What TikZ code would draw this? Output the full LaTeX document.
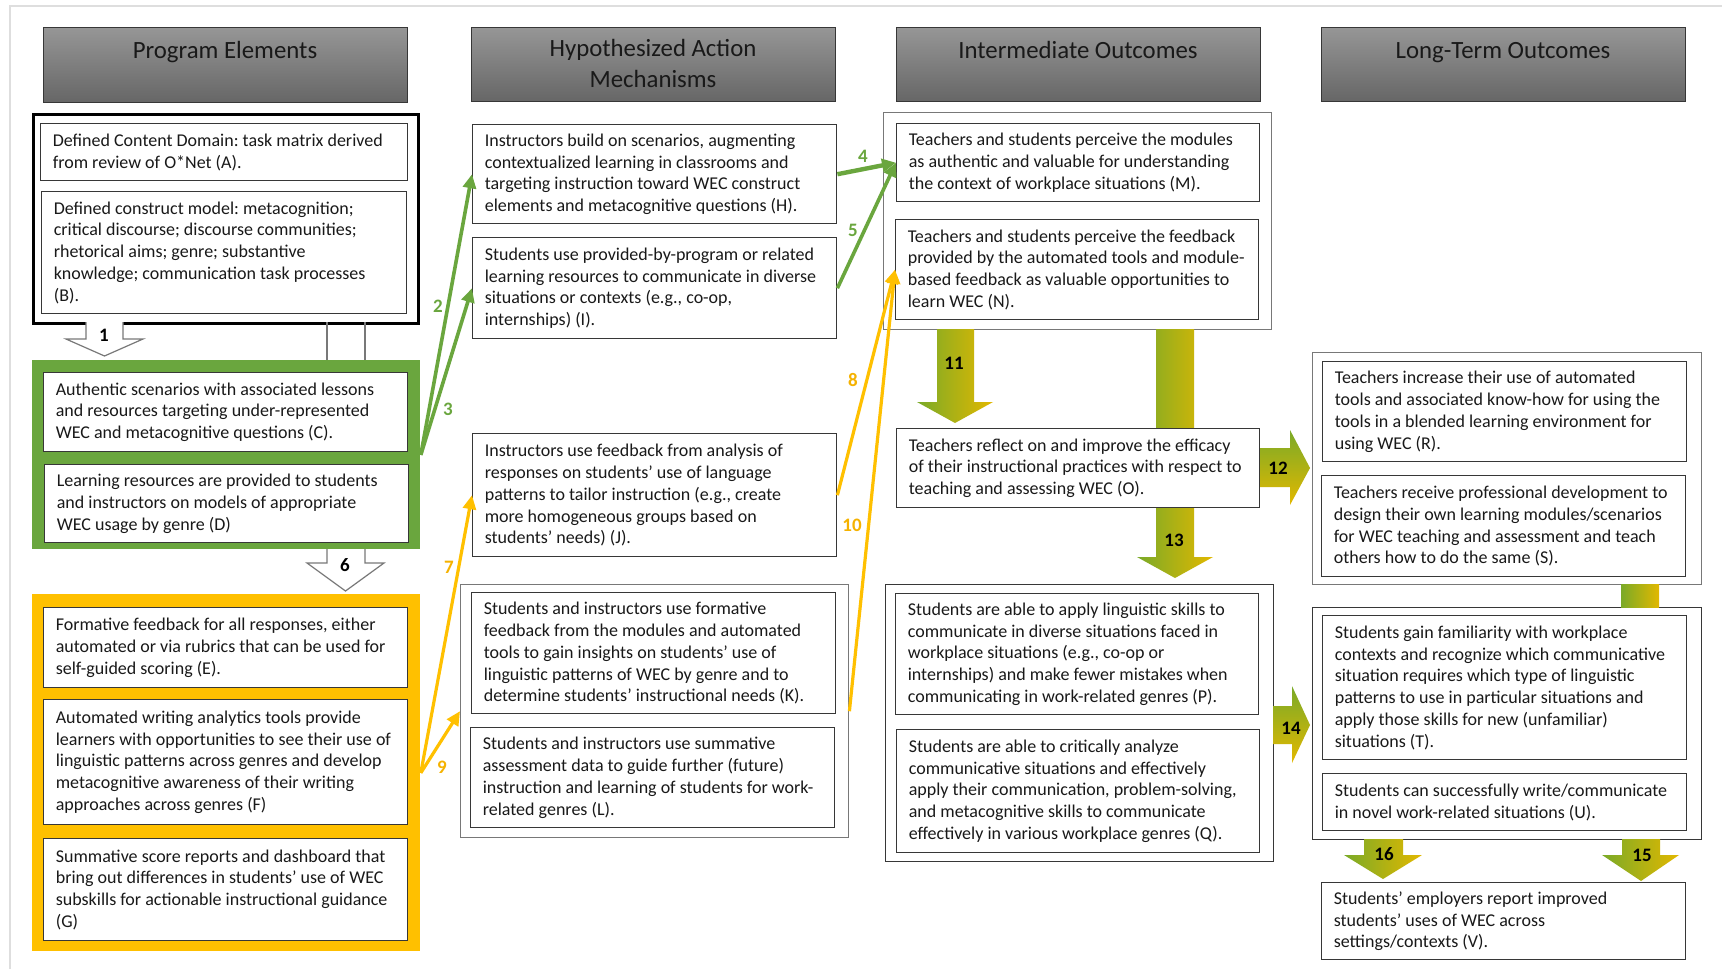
\documentclass[tikz,border=0pt]{standalone}
\usepackage{fontspec}
\setmainfont{Carlito}
\usetikzlibrary{arrows.meta}
\frenchspacing

\definecolor{wecgreen}{RGB}{106,166,62}
\definecolor{wecgold}{RGB}{255,192,0}
\definecolor{weclabgold}{RGB}{245,178,0}
\definecolor{gradgreen}{RGB}{122,170,40}
\definecolor{gradgold}{RGB}{226,184,0}
\definecolor{hdtop}{RGB}{150,150,150}
\definecolor{hdbot}{RGB}{102,102,102}
\definecolor{boxline}{RGB}{55,55,55}
\definecolor{softline}{RGB}{120,120,120}
\definecolor{frameline}{RGB}{222,222,222}

\tikzset{
  panel/.style={draw=boxline, line width=0.7pt, fill=white},
  header/.style={draw=boxline, line width=0.6pt, top color=hdtop, bottom color=hdbot},
  headtext/.style={font=\fontsize{12.4}{15.5}\selectfont, align=center, inner sep=0pt, text=black!90},
  body/.style={font=\fontsize{9}{10.9}\selectfont, align=left, anchor=west, inner sep=0pt, text=black!90},
  numlab/.style={font=\fontsize{9.5}{11}\selectfont\bfseries, inner sep=0pt},
  garrow/.style={draw=wecgreen, line width=1.8pt, -{Triangle[length=7pt,width=6.5pt]}},
  oarrow/.style={draw=wecgold, line width=1.6pt, -{Triangle[length=7pt,width=6.5pt]}},
  gradv/.style={left color=gradgreen, right color=gradgold, draw=none},
  gradh/.style={top color=gradgreen, bottom color=gradgold, draw=none},
  hollow/.style={draw=softline, line width=0.6pt, fill=white},
}

% rectangle node given by its corners (in px units)
\newcommand\wecrect[6]{%
  \pgfmathsetmacro\wecw{(#4-#2)*0.5}%
  \pgfmathsetmacro\wech{(#5-#3)*0.5}%
  \node[#6, rectangle, inner sep=0pt, anchor=north west,
        minimum width=\wecw pt, minimum height=\wech pt] (#1) at (#2,#3) {};}
% text box: framed rectangle plus its left-aligned text
\newcommand\wecbox[6]{%
  \wecrect{#1}{#2}{#3}{#4}{#5}{panel}%
  \node[body] (#1t) at ([xshift=6.2pt]#1.west) {#6};}

\begin{document}
\begin{tikzpicture}[x=0.5pt,y=-0.5pt]
\useasboundingbox (0,0) rectangle (1722,969);
\fill[white] (0,0) rectangle (1722,969);
\draw[frameline, line width=1pt] (10,969) -- (10,6) -- (1722,6);

% column headers
\wecrect{hd1}{43}{27}{407}{102}{header}
\wecrect{hd2}{471}{27}{835}{101}{header}
\wecrect{hd3}{896}{27}{1260}{101}{header}
\wecrect{hd4}{1321}{27}{1685}{101}{header}
\node[headtext, anchor=base] (hd1t) at (225,58) {Program Elements};
\node[headtext] (hd2t) at (653,63) {Hypothesized Action\\Mechanisms};
\node[headtext, anchor=base] (hd3t) at (1078,58) {Intermediate Outcomes};
\node[headtext, anchor=base] (hd4t) at (1503,58) {Long-Term Outcomes};

% group frames
\wecrect{AB}{32}{113}{417}{322}{draw=black, line width=1.4pt, fill=white}
\wecrect{CD}{32}{360}{420}{549}{fill=wecgreen}
\wecrect{EG}{32}{594}{420}{951}{fill=wecgold}
\wecrect{KL}{460}{584}{848}{837}{draw=softline, line width=0.7pt, fill=white}
\wecrect{MN}{883}{112}{1271}{329}{draw=softline, line width=0.7pt, fill=white}
\wecrect{PQ}{885}{584}{1273}{861}{draw=boxline, line width=0.7pt, fill=white}
\wecrect{RS}{1312}{352}{1701}{584}{draw=softline, line width=0.7pt, fill=white}
\wecrect{TU}{1312}{607}{1701}{839}{draw=boxline, line width=0.7pt, fill=white}

% shaded block arrows
\path[gradv] (937,329) -- (937,402) -- (917,402) -- (955,423) -- (993,402) -- (974,402) -- (974,329) -- cycle;
\path[gradv] (1156,329) -- (1156,557) -- (1137,557) -- (1175,578) -- (1213,557) -- (1194,557) -- (1194,329) -- cycle;
\path[gradh] (1259,448) -- (1290,448) -- (1290,430) -- (1310,468) -- (1290,505) -- (1290,487) -- (1259,487) -- cycle;
\path[gradh] (1273,706) -- (1292,706) -- (1292,686) -- (1310,725) -- (1292,763) -- (1292,744) -- (1273,744) -- cycle;
\path[gradv] (1621,584) rectangle (1659,607);
\path[gradv] (1364,839) -- (1364,855) -- (1344,855) -- (1383,879) -- (1422,855) -- (1403,855) -- (1403,839) -- cycle;
\path[gradv] (1622,839) -- (1622,855) -- (1602,855) -- (1641,881) -- (1679,855) -- (1660,855) -- (1660,839) -- cycle;

% outlined block arrows
\draw[hollow] (86,322) -- (86,339) -- (66,339) -- (104.5,356) -- (143,339) -- (123,339) -- (123,322);
\draw[softline, line width=0.6pt] (327,322) -- (327,360) (365,322) -- (365,360);
\draw[hollow] (327,549) -- (327,563) -- (307,563) -- (345.5,591) -- (384,563) -- (365,563) -- (365,549);

% program elements
\wecbox{A}{40}{123}{407}{180}{Defined Content Domain: task matrix derived\\from review of O*Net (A).}
\wecbox{B}{41}{191}{406}{313}{Defined construct model: metacognition;\\critical discourse; discourse communities;\\rhetorical aims; genre; substantive\\knowledge; communication task processes\\(B).}
\wecbox{C}{43}{372}{407}{451}{Authentic scenarios with associated lessons\\and resources targeting under-represented\\WEC and metacognitive questions (C).}
\wecbox{D}{44}{464}{408}{542}{Learning resources are provided to students\\and instructors on models of appropriate\\WEC usage by genre (D)}
\wecbox{E}{43}{607}{407}{687}{Formative feedback for all responses, either\\automated or via rubrics that can be used for\\self-guided scoring (E).}
\wecbox{F}{43}{699}{407}{824}{Automated writing analytics tools provide\\learners with opportunities to see their use of\\linguistic patterns across genres and develop\\metacognitive awareness of their writing\\approaches across genres (F)}
\wecbox{G}{43}{838}{407}{940}{Summative score reports and dashboard that\\bring out differences in students’ use of WEC\\subskills for actionable instructional guidance\\(G)}

% hypothesized action mechanisms
\wecbox{H}{472}{124}{836}{223}{Instructors build on scenarios, augmenting\\contextualized learning in classrooms and\\targeting instruction toward WEC construct\\elements and metacognitive questions (H).}
\wecbox{I}{472}{237}{836}{338}{Students use provided-by-program or related\\learning resources to communicate in diverse\\situations or contexts (e.g., co-op,\\internships) (I).}
\wecbox{J}{472}{433}{836}{556}{Instructors use feedback from analysis of\\responses on students’ use of language\\patterns to tailor instruction (e.g., create\\more homogeneous groups based on\\students’ needs) (J).}
\wecbox{K}{471}{592}{835}{713}{Students and instructors use formative\\feedback from the modules and automated\\tools to gain insights on students’ use of\\linguistic patterns of WEC by genre and to\\determine students’ instructional needs (K).}
\wecbox{L}{470}{727}{834}{827}{Students and instructors use summative\\assessment data to guide further (future)\\instruction and learning of students for work-\\related genres (L).}

% intermediate outcomes
\wecbox{M}{896}{123}{1259}{201}{Teachers and students perceive the modules\\as authentic and valuable for understanding\\the context of workplace situations (M).}
\wecbox{N}{895}{219}{1258}{319}{Teachers and students perceive the feedback\\provided by the automated tools and module-\\based feedback as valuable opportunities to\\learn WEC (N).}
\wecbox{O}{896}{428}{1259}{507}{Teachers reflect on and improve the efficacy\\of their instructional practices with respect to\\teaching and assessing WEC (O).}
\wecbox{P}{895}{593}{1258}{714}{Students are able to apply linguistic skills to\\communicate in diverse situations faced in\\workplace situations (e.g., co-op or\\internships) and make fewer mistakes when\\communicating in work-related genres (P).}
\wecbox{Q}{896}{729}{1259}{852}{Students are able to critically analyze\\communicative situations and effectively\\apply their communication, problem-solving,\\and metacognitive skills to communicate\\effectively in various workplace genres (Q).}

% long-term outcomes
\wecbox{R}{1322}{361}{1686}{461}{Teachers increase their use of automated\\tools and associated know-how for using the\\tools in a blended learning environment for\\using WEC (R).}
\wecbox{S}{1321}{475}{1685}{576}{Teachers receive professional development to\\design their own learning modules/scenarios\\for WEC teaching and assessment and teach\\others how to do the same (S).}
\wecbox{T}{1322}{615}{1686}{759}{Students gain familiarity with workplace\\contexts and recognize which communicative\\situation requires which type of linguistic\\patterns to use in particular situations and\\apply those skills for new (unfamiliar)\\situations (T).}
\wecbox{U}{1322}{773}{1686}{830}{Students can successfully write/communicate\\in novel work-related situations (U).}
\wecbox{V}{1321}{882}{1685}{959}{Students’ employers report improved\\students’ uses of WEC across\\settings/contexts (V).}

% linking arrows
\draw[garrow] (CD.east) -- (H.west);
\draw[garrow] (CD.east) -- (I.west);
\draw[garrow, line width=2.2pt] (H.east) -- (M.west);
\draw[garrow] (I.east) -- (M.west);
\draw[oarrow] (EG.east) -- (J.west);
\draw[oarrow] (EG.east) -- (KL.west);
\draw[oarrow] (J.east) -- (N.west);
\draw[oarrow] (KL.east) -- (N.west);

% arrow numbers
\node[numlab] (l1) at (104,335) {1};
\node[numlab] (l6) at (345,565) {6};
\node[numlab, text=wecgreen] (l2) at (438,306) {2};
\node[numlab, text=wecgreen] (l3) at (448,409) {3};
\node[numlab, text=wecgreen] (l4) at (863,156) {4};
\node[numlab, text=wecgreen] (l5) at (853,230) {5};
\node[numlab, text=weclabgold] (l7) at (449,567) {7};
\node[numlab, text=weclabgold] (l8) at (853,380) {8};
\node[numlab, text=weclabgold] (l9) at (442,767) {9};
\node[numlab, text=weclabgold] (l10) at (852,525) {10};
\node[numlab] (l11) at (954,363) {11};
\node[numlab] (l12) at (1278,468) {12};
\node[numlab] (l13) at (1174,540) {13};
\node[numlab] (l14) at (1291,728) {14};
\node[numlab] (l15) at (1642,855) {15};
\node[numlab] (l16) at (1384,854) {16};
\end{tikzpicture}
\end{document}
